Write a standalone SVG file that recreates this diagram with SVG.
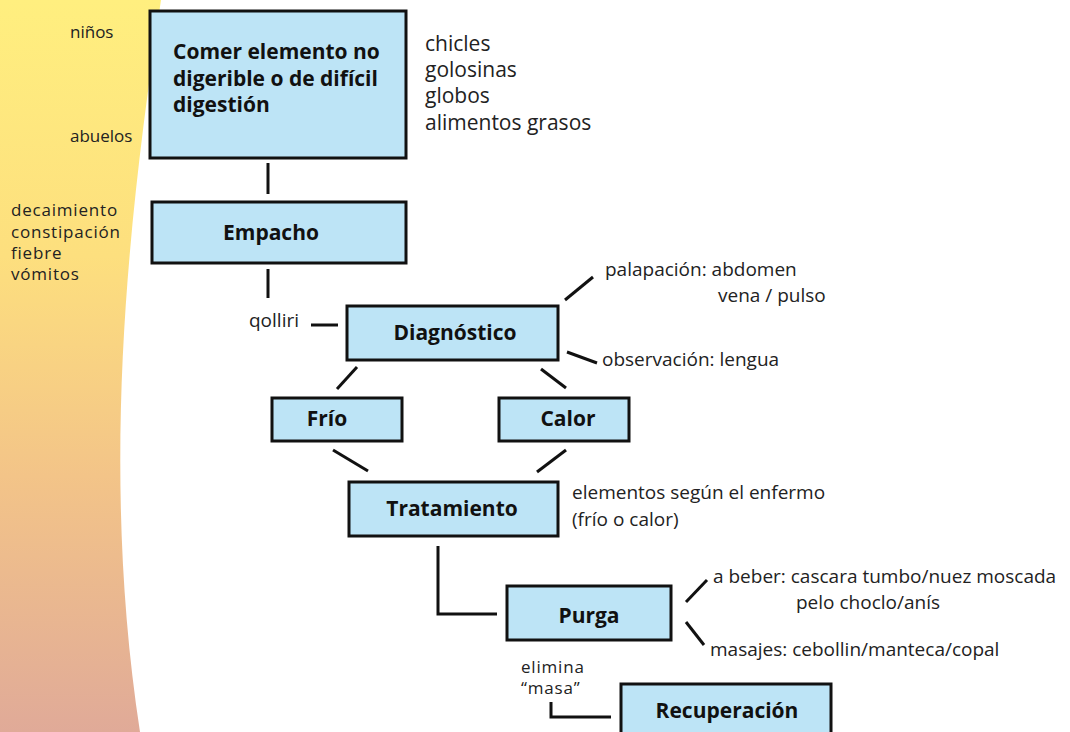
<svg xmlns="http://www.w3.org/2000/svg" width="1070" height="732" viewBox="0 0 1070 732">
<defs>
<linearGradient id="band" x1="0" y1="0" x2="0" y2="1">
<stop offset="0" stop-color="#FFEF7F"/>
<stop offset="0.35" stop-color="#FDDF7E"/>
<stop offset="0.65" stop-color="#F3C488"/>
<stop offset="1" stop-color="#E0AA98"/>
</linearGradient>
<style>
.box{fill:#BDE4F6;stroke:#111;stroke-width:3}
.lbl{font-family:"Open Sans","Liberation Sans",sans-serif;font-weight:bold;font-size:21px;fill:#111}
.t{font-family:"Open Sans","Liberation Sans",sans-serif;font-size:19px;fill:#222}
.tn{font-family:"Open Sans","Liberation Sans",sans-serif;font-size:17px;letter-spacing:0.8px;fill:#222}
.tl{font-family:"Open Sans","Liberation Sans",sans-serif;font-size:21px;fill:#222}
.ts{font-family:"Open Sans","Liberation Sans",sans-serif;font-size:17px;fill:#222}
.c{stroke:#111;stroke-width:3;fill:none}
</style>
</defs>
<rect width="1070" height="732" fill="#fff"/>
<path d="M0,0 L161,0 C128,220 100,470 140,732 L0,732 Z" fill="url(#band)"/>
<g id="side-labels">
<text class="ts" x="70" y="38">niños</text>
<text class="ts" x="70" y="142">abuelos</text>
<text class="tn" x="11" y="216">decaimiento</text>
<text class="tn" x="11" y="237.5">constipación</text>
<text class="tn" x="11" y="258.5">fiebre</text>
<text class="tn" x="11" y="279.5">vómitos</text>
</g>
<g id="connectors">
<line class="c" x1="268" y1="163" x2="268" y2="194"/>
<line class="c" x1="268" y1="269" x2="268" y2="298"/>
<line class="c" x1="311" y1="325" x2="338" y2="325"/>
<line class="c" x1="357" y1="367" x2="337" y2="389"/>
<line class="c" x1="541" y1="369" x2="566" y2="388"/>
<line class="c" x1="333" y1="450" x2="368" y2="471"/>
<line class="c" x1="566" y1="450" x2="537" y2="472"/>
<line class="c" x1="565" y1="300" x2="593" y2="277"/>
<line class="c" x1="567" y1="352" x2="597" y2="363"/>
<polyline class="c" points="438,546 438,614 497,614"/>
<line class="c" x1="686" y1="602" x2="707" y2="580"/>
<line class="c" x1="686" y1="622" x2="704" y2="645"/>
<polyline class="c" points="551,702 551,717 611,717"/>
</g>
<g id="n-comer">
<rect class="box" x="150" y="11" width="256" height="147"/>
<text class="lbl" x="173" y="59">Comer elemento no</text>
<text class="lbl" x="173" y="85.5">digerible o de difícil</text>
<text class="lbl" x="173" y="112">digestión</text>
</g>
<g id="n-empacho">
<rect class="box" x="152" y="202" width="254" height="61"/>
<text class="lbl" x="271" y="240" text-anchor="middle">Empacho</text>
</g>
<g id="n-diagnostico">
<rect class="box" x="347" y="306" width="211" height="54"/>
<text class="lbl" x="455" y="340" text-anchor="middle">Diagnóstico</text>
</g>
<g id="n-frio">
<rect class="box" x="272" y="398" width="130" height="43"/>
<text class="lbl" x="327" y="426" text-anchor="middle">Frío</text>
</g>
<g id="n-calor">
<rect class="box" x="499" y="398" width="130" height="43"/>
<text class="lbl" x="568" y="426" text-anchor="middle">Calor</text>
</g>
<g id="n-tratamiento">
<rect class="box" x="349" y="482" width="209" height="54"/>
<text class="lbl" x="452" y="516" text-anchor="middle">Tratamiento</text>
</g>
<g id="n-purga">
<rect class="box" x="507" y="586" width="164" height="54"/>
<text class="lbl" x="589" y="623" text-anchor="middle">Purga</text>
</g>
<g id="n-recuperacion">
<rect class="box" x="621" y="684" width="210" height="60"/>
<text class="lbl" x="727" y="718" text-anchor="middle">Recuperación</text>
</g>
<g id="annotations">
<text class="tl" x="425" y="51">chicles</text>
<text class="tl" x="425" y="77">golosinas</text>
<text class="tl" x="425" y="103">globos</text>
<text class="tl" x="425" y="130">alimentos grasos</text>
<text class="t" x="299" y="327" text-anchor="end">qolliri</text>
<text class="t" x="605" y="276">palapación: abdomen</text>
<text class="t" x="718" y="302">vena / pulso</text>
<text class="t" x="602" y="366">observación: lengua</text>
<text class="t" x="572" y="499">elementos según el enfermo</text>
<text class="t" x="572" y="526">(frío o calor)</text>
<text class="t" x="713" y="583">a beber: cascara tumbo/nuez moscada</text>
<text class="t" x="796" y="609">pelo choclo/anís</text>
<text class="t" x="710" y="656">masajes: cebollin/manteca/copal</text>
<text class="tn" x="521" y="673">elimina</text>
<text class="tn" x="521" y="694">“masa”</text>
</g>
</svg>
